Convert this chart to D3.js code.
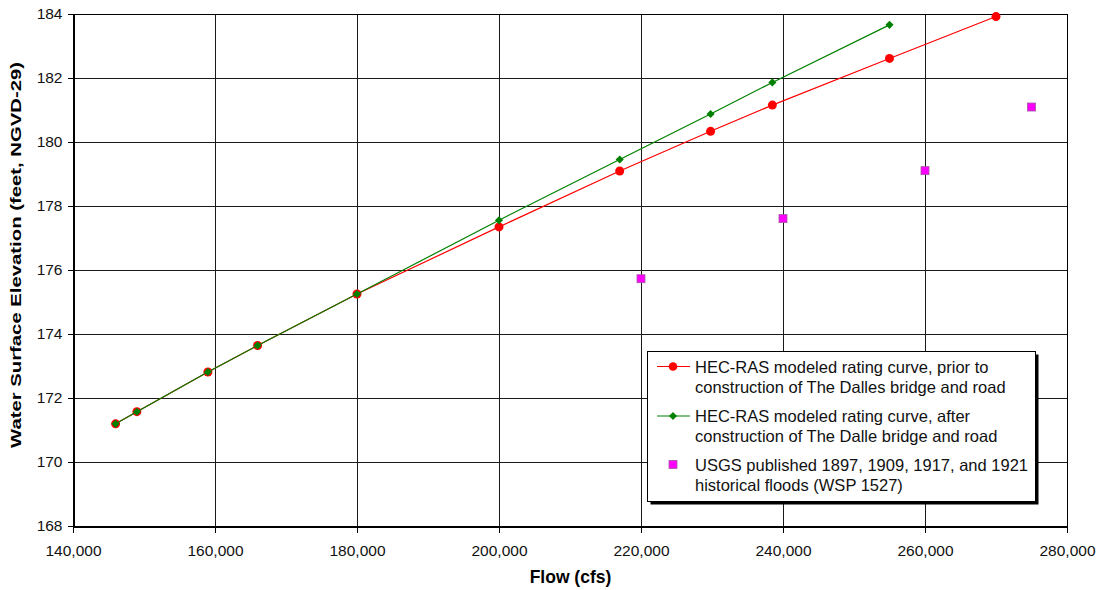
<!DOCTYPE html>
<html>
<head>
<meta charset="utf-8">
<script src="https://cdn.jsdelivr.net/npm/d3@7"></script>
<style>
  html, body { margin: 0; padding: 0; background: #fff; }
  svg { display: block; font-family: "Liberation Sans", Arial, sans-serif; }
</style>
</head>
<body>
<svg id="chart" width="1102" height="590"></svg>
<script>
// Rating curve, prior to construction of the bridge and road
const priorFlow = [146000, 149000, 159000, 166000, 180000, 200000, 217000, 229800, 238500, 255000, 270000];
const priorStage = [171.18, 171.56, 172.80, 173.63, 175.24, 177.34, 179.09, 180.33, 181.15, 182.61, 183.92];

// Rating curve, after construction of the bridge and road
const afterFlow = [146000, 149000, 159000, 166000, 180000, 200000, 217000, 229800, 238500, 255000];
const afterStage = [171.18, 171.56, 172.80, 173.63, 175.24, 177.55, 179.45, 180.87, 181.86, 183.66];

// USGS published historical floods (WSP 1527)
const usgsFlow = [220000, 240000, 260000, 275000];
const usgsStage = [175.72, 177.60, 179.10, 181.09];

const xTicks = [140000, 160000, 180000, 200000, 220000, 240000, 260000, 280000];
const yTicks = [168, 170, 172, 174, 176, 178, 180, 182, 184];

const legendLabels = [
  ["HEC-RAS modeled rating curve, prior to", "construction of The Dalles bridge and road"],
  ["HEC-RAS modeled rating curve, after", "construction of The Dalle bridge and road"],
  ["USGS published 1897, 1909, 1917, and 1921", "historical floods (WSP 1527)"]
];

const svg = d3.select("#chart");
const plot = { left: 73, top: 14, right: 1067, bottom: 525.5 };

const x = d3.scaleLinear().domain([140000, 280000]).range([plot.left, plot.right]);
const y = d3.scaleLinear().domain([168, 184]).range([plot.bottom, plot.top]);

const fmt = d3.format(",");

// Gridlines
const grid = svg.append("g").attr("shape-rendering", "crispEdges");
grid.selectAll("line.gx").data(xTicks).join("line")
  .attr("x1", d => Math.round(x(d)) + 0.5).attr("x2", d => Math.round(x(d)) + 0.5)
  .attr("y1", plot.top).attr("y2", plot.bottom)
  .attr("stroke", "#1a1a1a").attr("stroke-width", 1);
grid.selectAll("line.gy").data(yTicks).join("line")
  .attr("y1", d => Math.round(y(d)) + 0.5).attr("y2", d => Math.round(y(d)) + 0.5)
  .attr("x1", plot.left).attr("x2", plot.right)
  .attr("stroke", "#1a1a1a").attr("stroke-width", 1);

// Axes
const xAxis = svg.append("g")
  .attr("transform", `translate(0,${Math.round(plot.bottom) + 0.5})`)
  .call(d3.axisBottom(x).tickValues(xTicks).tickFormat(fmt).tickSize(6).tickPadding(12));
const yAxis = svg.append("g")
  .attr("transform", `translate(${Math.round(plot.left) + 0.5},0)`)
  .call(d3.axisLeft(y).tickValues(yTicks).tickFormat(d3.format("d")).tickSize(6).tickPadding(5));

[xAxis, yAxis].forEach(a => {
  a.select(".domain").attr("stroke", "#000").attr("shape-rendering", "crispEdges");
  a.selectAll(".tick line").attr("stroke", "#000").attr("shape-rendering", "crispEdges");
  a.selectAll(".tick text").attr("fill", "#111").style("font-size", "15.5px")
    .style("font-family", '"Liberation Sans", Arial, sans-serif');
});

// Plot frame
svg.append("rect")
  .attr("x", Math.round(plot.left) + 0.5).attr("y", Math.round(plot.top) + 0.5)
  .attr("width", Math.round(plot.right) - Math.round(plot.left))
  .attr("height", Math.round(plot.bottom) - Math.round(plot.top))
  .attr("fill", "none").attr("stroke", "#000").attr("shape-rendering", "crispEdges");

// Axis titles
svg.append("text")
  .attr("x", (plot.left + plot.right) / 2 + 0.5).attr("y", 583)
  .attr("text-anchor", "middle")
  .style("font-size", "17.5px").style("font-weight", "bold")
  .text("Flow (cfs)");
svg.append("text")
  .attr("transform", `translate(21,255) rotate(-90) scale(1,0.85)`)
  .attr("x", -193).attr("y", 0)
  .attr("textLength", 386).attr("lengthAdjust", "spacingAndGlyphs")
  .style("font-size", "17px").style("font-weight", "bold")
  .text("Water Surface Elevation (feet, NGVD-29)");

const line = d3.line().x(d => x(d[0])).y(d => y(d[1]));
const prior = priorFlow.map((f, i) => [f, priorStage[i]]);
const after = afterFlow.map((f, i) => [f, afterStage[i]]);
const usgs = usgsFlow.map((f, i) => [f, usgsStage[i]]);

// Prior-to-construction series
svg.append("path").datum(prior).attr("d", line)
  .attr("fill", "none").attr("stroke", "#ff0000").attr("stroke-width", 1.2);
svg.append("g").selectAll("circle").data(prior).join("circle")
  .attr("cx", d => x(d[0])).attr("cy", d => y(d[1])).attr("r", 4.5)
  .attr("fill", "#ff0000");

// After-construction series
const diamond = d3.symbol().type(d3.symbolDiamond2).size(42);
svg.append("path").datum(after).attr("d", line)
  .attr("fill", "none").attr("stroke", "#008000").attr("stroke-width", 1.2);
svg.append("g").selectAll("path").data(after).join("path")
  .attr("d", diamond)
  .attr("transform", d => `translate(${x(d[0])},${y(d[1])})`)
  .attr("fill", "#008000");

// USGS historical floods
svg.append("g").selectAll("rect").data(usgs).join("rect")
  .attr("x", d => x(d[0]) - 4).attr("y", d => y(d[1]) - 4)
  .attr("width", 8).attr("height", 8)
  .attr("fill", "#ff00ff").attr("stroke", "#a05aa0").attr("stroke-width", 0.8);

// Legend
const lg = svg.append("g");
const box = { x: 647.5, y: 351.5, w: 388, h: 150 };
lg.append("rect").attr("x", box.x + 3).attr("y", box.y + 3)
  .attr("width", box.w).attr("height", box.h).attr("fill", "#000");
lg.append("rect").attr("x", box.x).attr("y", box.y)
  .attr("width", box.w).attr("height", box.h)
  .attr("fill", "#fff").attr("stroke", "#000").attr("stroke-width", 1);

const rowY = [366.5, 416, 464.5];
const symX = 673;
// row 1
lg.append("line").attr("x1", 657).attr("x2", 690).attr("y1", rowY[0]).attr("y2", rowY[0])
  .attr("stroke", "#ff0000").attr("stroke-width", 1.2);
lg.append("circle").attr("cx", symX).attr("cy", rowY[0]).attr("r", 4.3).attr("fill", "#ff0000");
// row 2
lg.append("line").attr("x1", 657).attr("x2", 690).attr("y1", rowY[1]).attr("y2", rowY[1])
  .attr("stroke", "#008000").attr("stroke-width", 1.2);
lg.append("path").attr("d", diamond).attr("transform", `translate(${symX},${rowY[1]})`)
  .attr("fill", "#008000");
// row 3
lg.append("rect").attr("x", symX - 4).attr("y", rowY[2] - 4).attr("width", 8).attr("height", 8)
  .attr("fill", "#ff00ff").attr("stroke", "#a05aa0").attr("stroke-width", 0.8);

legendLabels.forEach((lines, i) => {
  lines.forEach((t, j) => {
    lg.append("text")
      .attr("x", 695).attr("y", rowY[i] + 6 + j * 20)
      .style("font-size", "16.5px").attr("fill", "#111")
      .text(t);
  });
});
</script>
</body>
</html>
